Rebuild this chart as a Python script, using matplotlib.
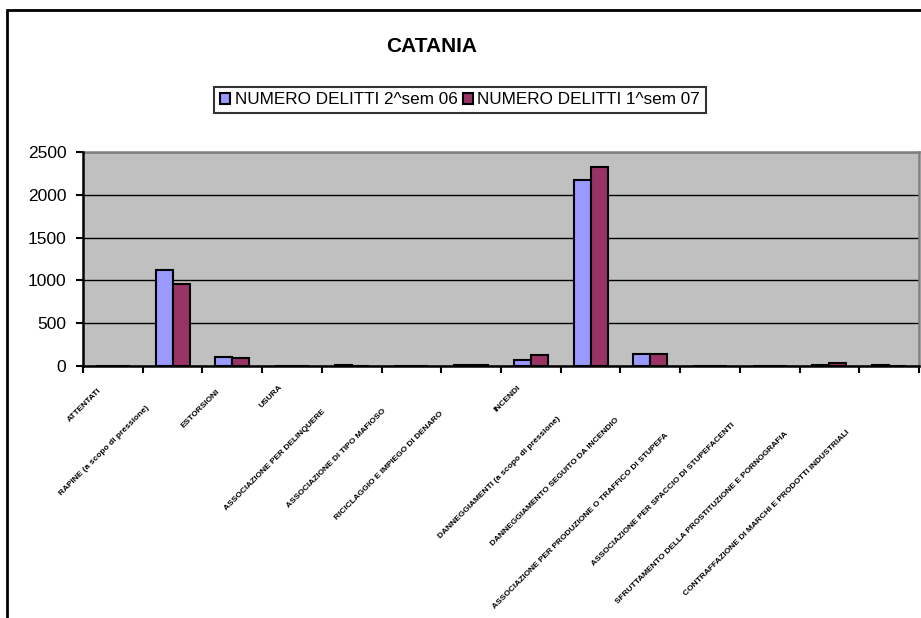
import numpy as np
import matplotlib
matplotlib.use("Agg")
import matplotlib.pyplot as plt
from matplotlib.patches import Rectangle

plt.rcParams['font.family'] = ['Liberation Sans', 'DejaVu Sans']

categorie = [
    "ATTENTATI",
    "RAPINE (a scopo di pressione)",
    "ESTORSIONI",
    "USURA",
    "ASSOCIAZIONE PER DELINQUERE",
    "ASSOCIAZIONE DI TIPO MAFIOSO",
    "RICICLAGGIO E IMPIEGO DI DENARO",
    "INCENDI",
    "DANNEGGIAMENTI (a scopo di pressione)",
    "DANNEGGIAMENTO SEGUITO DA INCENDIO",
    "ASSOCIAZIONE PER PRODUZIONE O TRAFFICO DI STUPEFA",
    "ASSOCIAZIONE PER SPACCIO DI STUPEFACENTI",
    "SFRUTTAMENTO DELLA PROSTITUZIONE E PORNOGRAFIA",
    "CONTRAFFAZIONE DI MARCHI E PRODOTTI INDUSTRIALI",
]
sem2_06 = [0, 1120, 105, 0, 15, 0, 10, 72, 2170, 135, 0, 0, 10, 12]
sem1_07 = [0, 955, 90, 0, 0, 0, 10, 130, 2330, 145, 0, 0, 35, 0]
serie = ["NUMERO DELITTI 2^sem 06", "NUMERO DELITTI 1^sem 07"]
yticks = [0, 500, 1000, 1500, 2000, 2500]

W, H = 921, 618
fig = plt.figure(figsize=(W / 100, H / 100), dpi=100)
ax = fig.add_axes([83 / W, 1 - 366 / H, (919 - 83) / W, (366 - 152) / H])
ax.set_facecolor("#C0C0C0")

x = np.arange(len(categorie))
w = 1 / 3.5   # gap width 150%
ax.bar(x - w / 2, sem2_06, w, color="#9999FF", edgecolor="black", linewidth=1.5, label=serie[0], zorder=3)
ax.bar(x + w / 2, sem1_07, w, color="#993366", edgecolor="black", linewidth=1.5, label=serie[1], zorder=3)

ax.set_xlim(-0.5, len(categorie) - 0.5)
ax.set_ylim(0, 2500)
ax.set_yticks(yticks)
ax.set_yticklabels([str(v) for v in yticks], fontsize=12.5)
ax.set_xticks(np.arange(len(categorie) + 1) - 0.5)
ax.set_xticklabels([])
ax.tick_params(axis="both", direction="out", length=5, width=1.5, color="black")
ax.tick_params(axis="y", pad=7)
ax.yaxis.grid(True, color="black", linewidth=1)
ax.set_axisbelow(True)

for s in ["left", "bottom"]:
    ax.spines[s].set_color("black")
    ax.spines[s].set_linewidth(1.8)
    ax.spines[s].set_zorder(4)
for s in ["top", "right"]:
    ax.spines[s].set_color("#808080")
    ax.spines[s].set_linewidth(1.8)

# etichette inclinate, piccole e fitte come nell'originale
fig.canvas.draw()
for i, lab in enumerate(categorie):
    t = ax.annotate(lab, xy=(i, 0), xycoords=("data", "axes fraction"),
                    xytext=(0, 0), textcoords="offset pixels",
                    rotation=45, ha="right", va="center", rotation_mode="anchor",
                    fontsize=6.0, fontweight="bold", annotation_clip=False)
    L = t.get_window_extent().width * 1.414
    s = 0.15 * L + 5
    t.set_position((-s, -(1.5 * s + 4)))

fig.text(432 / W, 1 - 46 / H, "CATANIA", ha="center", va="center",
         fontsize=15, fontweight="bold")

leg = fig.legend(loc="center", bbox_to_anchor=(460 / W, 1 - 100 / H), ncol=2,
                 fontsize=12.3, frameon=True, fancybox=False, edgecolor="black",
                 handlelength=0.6, handleheight=0.6, handletextpad=0.25,
                 columnspacing=0.3, borderpad=0.35, borderaxespad=0)
leg.get_frame().set_linewidth(1.5)

# bordo del grafico (solo sinistra e sopra visibili)
fig.patches.append(Rectangle((7 / W, -0.1), 1.2, 1.1 - 10 / H, transform=fig.transFigure,
                             fill=False, edgecolor="black", linewidth=2))

fig.savefig("out.png", dpi=100)
